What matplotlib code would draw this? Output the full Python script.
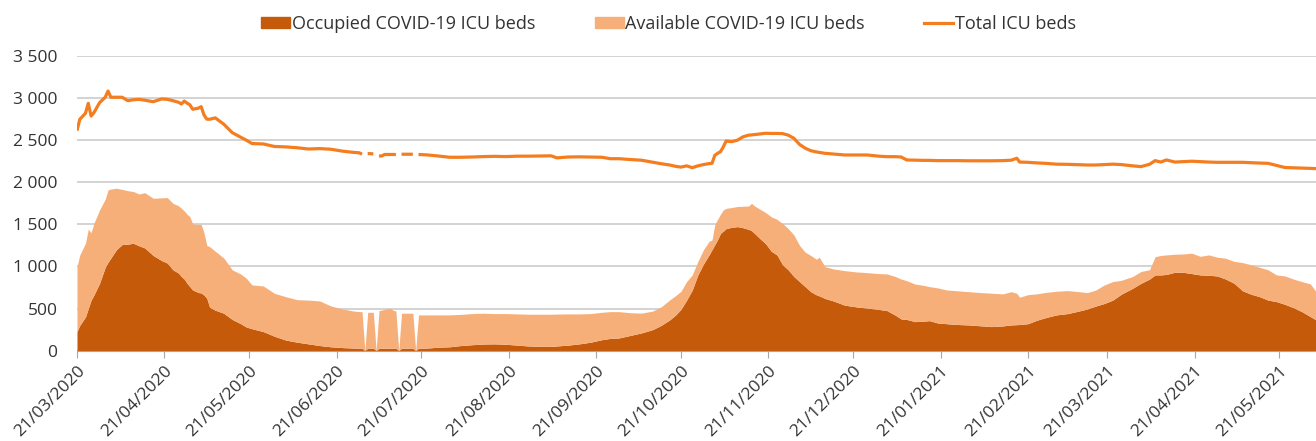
import matplotlib
matplotlib.use('Agg')
import matplotlib.pyplot as plt
import matplotlib.dates as mdates
import matplotlib.ticker as mticker
from matplotlib.patches import Patch
from matplotlib.lines import Line2D
import numpy as np
import pandas as pd

start = pd.Timestamp('2020-03-21')
days = [0, 1, 3, 4, 5, 6, 8, 10, 11, 12, 14, 16, 18, 20, 22, 24, 27, 30, 32, 34,
        36, 37, 38, 39, 40, 41, 43, 44, 45, 46, 47, 49, 52, 55, 58, 60, 62, 66, 70, 74,
        78, 82, 86, 90, 94, 98, 100, 101, 102, 103, 104, 105, 106, 107, 108, 109, 110, 111, 112, 113,
        114, 115, 117, 119, 120, 121, 124, 128, 132, 136, 140, 144, 148, 152, 156, 160, 164, 168, 170, 174,
        178, 182, 186, 189, 192, 196, 200, 204, 207, 210, 212, 214, 216, 218, 220, 222, 224, 225, 226, 227,
        228, 229, 230, 232, 234, 236, 238, 239, 240, 242, 244, 246, 248, 250, 252, 254, 256, 258, 260, 262,
        263, 265, 268, 272, 276, 280, 284, 287, 290, 292, 294, 297, 300, 302, 305, 308, 312, 316, 320, 324,
        328, 331, 333, 334, 337, 340, 343, 347, 351, 355, 358, 361, 364, 367, 370, 374, 377, 380, 382, 384,
        386, 389, 392, 395, 398, 401, 404, 407, 410, 413, 416, 419, 422, 425, 428, 431, 434, 437, 439]

occupied = [226, 300, 400, 500, 600, 660, 800, 990, 1050, 1100, 1200, 1260, 1265, 1275, 1245, 1220, 1130, 1070, 1040, 960,
            920, 880, 850, 800, 760, 720, 690, 685, 660, 622, 515, 480, 444, 370, 320, 280, 260, 226, 170, 125,
            100, 80, 60, 45, 36, 30, 28, 28, 0, 28, 28, 28, 0, 28, 28, 28, 28, 28, 28, 28,
            0, 28, 28, 28, 0, 28, 30, 40, 45, 60, 70, 78, 80, 75, 65, 55, 50, 50, 55, 65,
            80, 100, 130, 145, 150, 180, 210, 250, 300, 365, 420, 490, 600, 720, 900, 1030, 1140, 1200, 1260, 1320,
            1394, 1420, 1450, 1465, 1473, 1460, 1440, 1425, 1395, 1330, 1270, 1180, 1137, 1020, 960, 880, 820, 760, 700, 662,
            650, 620, 590, 540, 520, 505, 490, 475, 420, 376, 370, 344, 350, 356, 328, 320, 310, 305, 295, 285,
            293, 305, 308, 310, 320, 360, 390, 424, 440, 470, 495, 530, 560, 600, 670, 740, 800, 850, 899, 899,
            905, 931, 930, 915, 899, 895, 887, 850, 800, 710, 670, 641, 600, 582, 550, 510, 463, 404, 365]

available = [772, 837, 875, 942, 801, 853, 871, 810, 859, 820, 729, 655, 635, 615, 615, 657, 680, 745, 778, 790,
             800, 811, 810, 820, 831, 785, 810, 815, 740, 628, 720, 700, 656, 590, 590, 580, 520, 542, 510, 515,
             505, 520, 530, 485, 459, 440, 435, 435, 0, 427, 427, 427, 0, 447, 455, 462, 469, 475, 452, 442,
             0, 416, 416, 416, 0, 396, 394, 384, 379, 370, 370, 366, 360, 365, 371, 377, 382, 382, 379, 371,
             356, 340, 325, 318, 313, 270, 235, 220, 220, 237, 230, 215, 220, 180, 160, 170, 160, 115, 240, 240,
             226, 251, 240, 235, 239, 255, 278, 325, 325, 350, 370, 410, 423, 490, 490, 494, 430, 410, 430, 423,
             460, 378, 380, 410, 415, 421, 425, 436, 460, 474, 460, 446, 425, 404, 417, 401, 400, 395, 395, 397,
             381, 395, 372, 324, 345, 314, 300, 281, 273, 230, 194, 190, 220, 220, 165, 140, 140, 110, 217, 231,
             232, 214, 218, 242, 221, 242, 223, 247, 260, 335, 350, 349, 360, 317, 337, 340, 357, 388, 336]

nan = np.nan
total_icu = [2613, 2748, 2819, 2938, 2787, 2827, 2945, 3010, 3084, 3010, 3010, 3010, 2969, 2980, 2985, 2975, 2957, 2990, 2985, 2969,
             2950, 2930, 2965, 2940, 2920, 2867, 2880, 2898, 2800, 2750, 2748, 2765, 2690, 2590, 2535, 2500, 2460, 2455, 2425, 2420,
             2410, 2395, 2400, 2392, 2370, 2355, 2350, 2333, nan, 2340, 2340, 2336, nan, 2312, 2312, 2330, 2330, 2330, 2330, 2330,
             nan, 2333, 2333, 2333, nan, 2330, 2325, 2312, 2297, 2297, 2300, 2305, 2308, 2305, 2310, 2310, 2312, 2314, 2290, 2300,
             2302, 2300, 2297, 2280, 2280, 2270, 2262, 2238, 2220, 2205, 2190, 2180, 2195, 2173, 2195, 2210, 2222, 2225, 2320, 2344,
             2363, 2420, 2490, 2482, 2500, 2540, 2560, 2562, 2566, 2575, 2582, 2580, 2580, 2578, 2560, 2523, 2450, 2405, 2375, 2360,
             2355, 2344, 2335, 2324, 2324, 2324, 2310, 2304, 2304, 2300, 2265, 2262, 2260, 2260, 2257, 2257, 2257, 2255, 2255, 2255,
             2257, 2262, 2285, 2240, 2237, 2230, 2225, 2215, 2213, 2208, 2205, 2205, 2210, 2215, 2210, 2195, 2186, 2213, 2257, 2240,
             2265, 2240, 2245, 2250, 2245, 2240, 2237, 2237, 2237, 2237, 2232, 2228, 2225, 2200, 2175, 2172, 2168, 2165, 2162]

labels = ['Occupied COVID-19 ICU beds', 'Available COVID-19 ICU beds', 'Total ICU beds']

c_occ = '#C55A0B'
c_avail = '#F7AF7A'
c_total = '#F47D20'
grid_c = '#C8C8C8'
txt_c = '#333333'

plt.rcParams['font.family'] = ['Open Sans', 'DejaVu Sans']

dates = start + pd.to_timedelta(days, unit='D')
occ = np.array(occupied, dtype=float)
avail = np.array(available, dtype=float)

fig = plt.figure(figsize=(13.16, 4.41), dpi=100)
ax = fig.add_axes([0.0585, 0.205, 0.9415, 0.668])

ax.fill_between(dates, 0, occ, color=c_occ, lw=0)
ax.fill_between(dates, occ, occ + avail, color=c_avail, lw=0)
ax.plot(dates, total_icu, color=c_total, lw=2.3, solid_capstyle='butt')

ax.set_ylim(0, 3500)
ax.set_xlim(dates[0], dates[-1])
ax.yaxis.set_major_locator(mticker.MultipleLocator(500))
ax.yaxis.set_major_formatter(mticker.FuncFormatter(lambda v, p: '{:,.0f}'.format(v).replace(',', ' ')))
ax.grid(axis='y', color=grid_c, lw=1.1)
ax.set_axisbelow(True)

# monthly ticks on the 21st
ticks = pd.date_range('2020-03-01', '2021-05-01', freq='MS') + pd.Timedelta(days=20)
ax.set_xticks(ticks)
ax.xaxis.set_major_formatter(mdates.DateFormatter('%d/%m/%Y'))
for lab in ax.get_xticklabels():
    lab.set_rotation(45)
    lab.set_ha('right')
    lab.set_rotation_mode('anchor')

for s in ['top', 'right', 'left']:
    ax.spines[s].set_visible(False)
ax.spines['bottom'].set_color('#A6A6A6')
ax.tick_params(axis='x', colors='#A6A6A6', length=5, labelcolor=txt_c, labelsize=12.5, pad=4)
ax.tick_params(axis='y', length=0, labelcolor=txt_c, labelsize=12.5, pad=14)

handles = [Patch(color=c_occ), Patch(color=c_avail), Line2D([], [], color=c_total, lw=2.3)]
fig.legend(handles, labels, loc='center', bbox_to_anchor=(0.508, 0.945), ncol=3, frameon=False,
           fontsize=13, handlelength=1.6, handleheight=0.55, handletextpad=0.1, columnspacing=3.3,
           labelcolor=txt_c)

fig.savefig('out.png', dpi=100)
